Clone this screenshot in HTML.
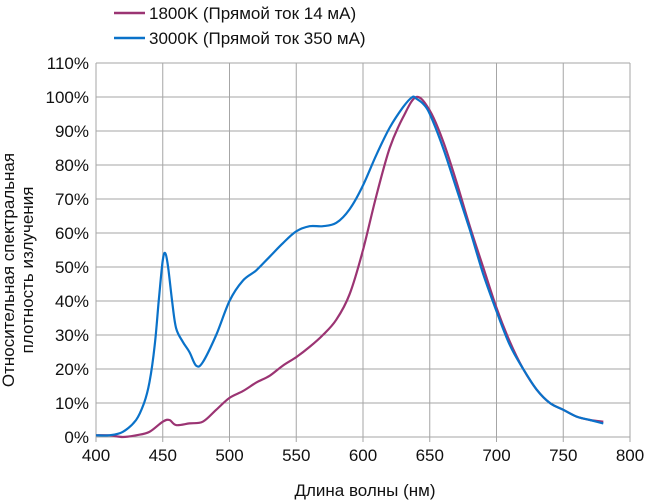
<!DOCTYPE html>
<html><head><meta charset="utf-8">
<style>
body{margin:0;background:#fff;}
svg{display:block;font-family:"Liberation Sans","DejaVu Sans",sans-serif;}
</style></head>
<body>
<svg id="chart" width="646" height="500" viewBox="0 0 646 500" xmlns="http://www.w3.org/2000/svg">
<g id="grid"></g>
<g id="axes"></g>
<g id="series"></g>
<g>
 <line x1="114" y1="13" x2="145" y2="13" stroke="#9b3473" stroke-width="2.5"/>
 <text x="149" y="19" font-size="17" fill="#111">1800K (Прямой ток 14 мА)</text>
 <line x1="114" y1="38" x2="145" y2="38" stroke="#0a72c9" stroke-width="2.5"/>
 <text x="149" y="44" font-size="17" fill="#111">3000K (Прямой ток 350 мА)</text>
</g>
<text transform="translate(14,270) rotate(-90)" text-anchor="middle" font-size="17" fill="#111"><tspan x="0" dy="0">Относительная спектральная</tspan><tspan x="0" dy="19">плотность излучения</tspan></text>
<text x="365" y="496" text-anchor="middle" font-size="17" fill="#111">Длина волны (нм)</text>
</svg>
<script>
const xTicks=[400,450,500,550,600,650,700,750,800];
const yTicks=[0,10,20,30,40,50,60,70,80,90,100,110];
const blueX=[400,410,420,430,436,440,444,447,450,452,454,457,460,465,470,475,480,490,500,510,520,530,540,550,560,570,580,590,600,610,620,630,637,640,645,650,660,670,680,690,700,710,720,730,740,750,760,770,780];
const blueY=[0.5,0.5,1.5,5,10,16,27,40,52,54,50,40,32,28,25,21,22,30,40,46,49,53,57,60.5,62,62,63,67,74,83,91,97,100,99.5,98,95,85,73,61,48,37,27,20,14,10,8,6,5,4];
const purpleX=[400,410,420,430,440,450,455,460,470,480,490,500,510,520,530,540,550,560,570,580,590,600,610,620,630,640,650,660,670,680,690,700,710,720,730,740,750,760,770,780];
const purpleY=[0.5,0.5,0,0.5,1.5,4.5,5,3.5,4,4.5,8,11.5,13.5,16,18,21,23.5,26.5,30,34.5,42,55,71,85,94,100,96,87,75,62,50,38,28,20,14,10,8,6,5,4.5];
const X0=96,X1=630,Y0=437,Y1=63;
const sx=v=>X0+(v-400)/400*(X1-X0);
const sy=v=>Y0-v/110*(Y0-Y1);
const NS="http://www.w3.org/2000/svg";
const mk=(p,t,a)=>{const e=document.createElementNS(NS,t);for(const k in a)e.setAttribute(k,a[k]);p.appendChild(e);return e;};
const grid=document.getElementById('grid'),axes=document.getElementById('axes'),ser=document.getElementById('series');
yTicks.forEach(v=>{
 const l=mk(grid,'line',{x1:X0,x2:X1,y1:sy(v),y2:sy(v),stroke:'#a6a6a6','stroke-width':1});
 
 
 const t=mk(axes,'text',{x:X0-7,y:sy(v)+6,'text-anchor':'end','font-size':17,fill:'#111'});
 t.textContent=v+'%';
 
 
});
xTicks.forEach(v=>{
 const l=mk(grid,'line',{x1:sx(v),x2:sx(v),y1:Y1,y2:Y0+5,stroke:'#a6a6a6','stroke-width':1});
 
 
 const t=mk(axes,'text',{x:sx(v),y:Y0+24,'text-anchor':'middle','font-size':17,fill:'#111'});
 t.textContent=v;
 
 
});
function line(xs,ys,c,name){
 const P=xs.map((x,i)=>[sx(x),sy(ys[i])]);
 let d='M'+P[0][0].toFixed(1)+','+P[0][1].toFixed(1);
 for(let i=0;i<P.length-1;i++){
  const p0=P[i-1]||P[i],p1=P[i],p2=P[i+1],p3=P[i+2]||P[i+1];
  const c1=[p1[0]+(p2[0]-p0[0])/6,p1[1]+(p2[1]-p0[1])/6];
  const c2=[p2[0]-(p3[0]-p1[0])/6,p2[1]-(p3[1]-p1[1])/6];
  d+='C'+c1[0].toFixed(1)+','+c1[1].toFixed(1)+' '+c2[0].toFixed(1)+','+c2[1].toFixed(1)+' '+p2[0].toFixed(1)+','+p2[1].toFixed(1);
 }
 const p=mk(ser,'path',{d:d,fill:'none',stroke:c,'stroke-width':2.2,'stroke-linejoin':'round'});
 
 
}
line(purpleX,purpleY,'#9b3473','series-1800k');
line(blueX,blueY,'#0a72c9','series-3000k');
</script>
</body></html>
